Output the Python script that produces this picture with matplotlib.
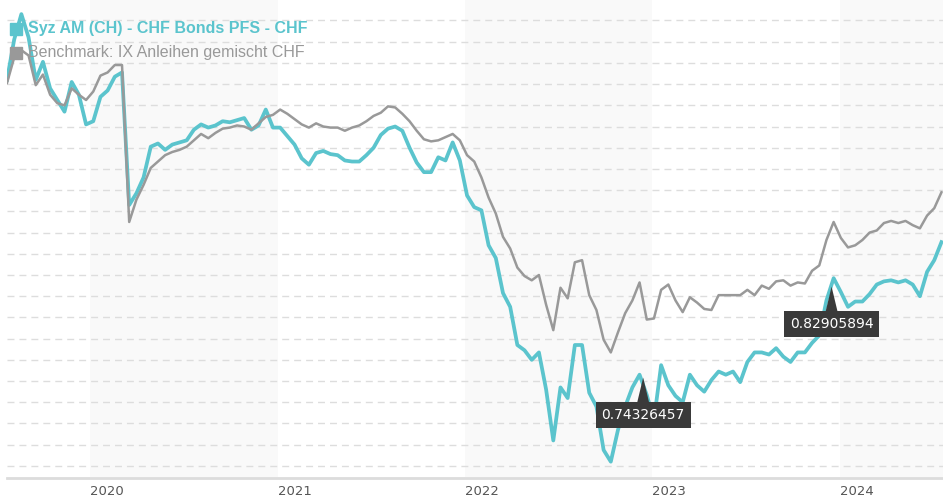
import numpy as np
import pandas as pd
import matplotlib.pyplot as plt
from matplotlib.patches import Rectangle

fund_name = "Syz AM (CH) - CHF Bonds PFS - CHF"
bench_name = "Benchmark: IX Anleihen gemischt CHF"

dates = pd.date_range("2019-07-24", periods=131, freq="14D")

fund = [
    1.024, 1.062, 1.086, 1.064, 1.024, 1.041, 1.016, 1.005, 0.994, 1.022,
    1.010, 0.982, 0.985, 1.008, 1.014, 1.027, 1.031, 0.906, 0.917, 0.932,
    0.961, 0.964, 0.958, 0.963, 0.965, 0.967, 0.977, 0.982, 0.979, 0.981,
    0.985, 0.984, 0.986, 0.988, 0.977, 0.981, 0.996, 0.979, 0.979, 0.971,
    0.963, 0.950, 0.944, 0.955, 0.957, 0.954, 0.953, 0.948, 0.947, 0.947,
    0.953, 0.960, 0.972, 0.978, 0.980, 0.976, 0.960, 0.946, 0.937, 0.937,
    0.951, 0.948, 0.965, 0.948, 0.915, 0.904, 0.901, 0.868, 0.856, 0.823,
    0.810, 0.774, 0.769, 0.760, 0.767, 0.732, 0.684, 0.734, 0.724, 0.774,
    0.774, 0.729, 0.716, 0.675, 0.664, 0.694, 0.716, 0.734, 0.746, 0.727,
    0.703, 0.755, 0.736, 0.726, 0.720, 0.746, 0.736, 0.730, 0.741, 0.749,
    0.746, 0.749, 0.739, 0.758, 0.767, 0.767, 0.765, 0.771, 0.763, 0.758,
    0.767, 0.767, 0.776, 0.783, 0.816, 0.837, 0.824, 0.810, 0.815, 0.815,
    0.822, 0.831, 0.834, 0.835, 0.833, 0.835, 0.831, 0.820, 0.843, 0.854,
    0.871,
]

bench = [
    1.021, 1.045, 1.052, 1.047, 1.019, 1.029, 1.010, 1.002, 1.000, 1.016,
    1.010, 1.005, 1.013, 1.028, 1.031, 1.038, 1.038, 0.890, 0.911, 0.925,
    0.941, 0.947, 0.953, 0.956, 0.958, 0.961, 0.967, 0.973, 0.969, 0.974,
    0.978, 0.979, 0.981, 0.980, 0.977, 0.983, 0.989, 0.991, 0.996, 0.992,
    0.987, 0.982, 0.979, 0.983, 0.980, 0.979, 0.979, 0.976, 0.979, 0.981,
    0.985, 0.990, 0.993, 0.999, 0.998, 0.992, 0.985, 0.976, 0.968, 0.966,
    0.967, 0.970, 0.973, 0.967, 0.953, 0.947, 0.932, 0.913, 0.898, 0.876,
    0.865, 0.847, 0.839, 0.835, 0.840, 0.812, 0.788, 0.828, 0.818, 0.852,
    0.854, 0.821, 0.807, 0.779, 0.767, 0.786, 0.804, 0.816, 0.833, 0.798,
    0.799, 0.826, 0.831, 0.816, 0.805, 0.819, 0.814, 0.808, 0.807, 0.821,
    0.821, 0.821, 0.821, 0.826, 0.821, 0.830, 0.827, 0.834, 0.835, 0.830,
    0.833, 0.832, 0.844, 0.849, 0.873, 0.890, 0.875, 0.866, 0.868, 0.873,
    0.880, 0.882, 0.889, 0.891, 0.889, 0.891, 0.887, 0.884, 0.896, 0.903,
    0.918,
]

annot_dates = ["2022-12-14", "2023-12-16"]
annot_values = [0.74326457, 0.82905894]

years = [2020, 2021, 2022, 2023, 2024]
shaded_years = [2020, 2022, 2024]

teal = "#5bc4cd"
grey = "#999999"
box = "#3a3a3a"

fig = plt.figure(figsize=(9.43, 5), dpi=100)
ax = fig.add_axes([7 / 943, 22 / 500, 936 / 943, 478 / 500])

# alternating year bands
for y in shaded_years:
    ax.axvspan(pd.Timestamp(f"{y}-01-01"), pd.Timestamp(f"{y + 1}-01-01"),
               color="#f9f9f9", lw=0, zorder=0)

ax.plot(dates, fund, color=teal, lw=2.7, zorder=3)
ax.plot(dates, bench, color=grey, lw=1.8, zorder=4)

ax.set_xlim(pd.Timestamp("2019-07-24"), pd.Timestamp("2024-07-20"))
ax.set_ylim(0.6486, 1.0993)

# dashed horizontal grid
ax.set_yticks(np.arange(0.66, 1.09, 0.02))
ax.set_axisbelow(True)
ax.yaxis.grid(True, color="#dddddd", lw=1, linestyle=(0, (5, 3.6)))
ax.tick_params(axis="y", left=False, labelleft=False)

ax.set_xticks([pd.Timestamp(f"{y}-01-01") for y in years])
ax.set_xticklabels([str(y) for y in years])
ax.tick_params(axis="x", length=0, pad=5, labelsize=9.5, labelcolor="#555555")
for lbl in ax.get_xticklabels():
    lbl.set_ha("left")

for s in ["top", "left", "right"]:
    ax.spines[s].set_visible(False)
ax.spines["bottom"].set_color("#dcdcdc")
ax.spines["bottom"].set_linewidth(2)

# value call-outs
for d, v in zip(annot_dates, annot_values):
    ax.annotate(f"{v:.8f}", xy=(pd.Timestamp(d), v), xytext=(0, -27),
                textcoords="offset points", ha="center", va="center",
                color="white", fontsize=10,
                bbox=dict(boxstyle="square,pad=0.42", fc=box, ec="none"),
                arrowprops=dict(arrowstyle="wedge,tail_width=0.85", fc=box,
                                ec="none", shrinkA=0, shrinkB=0),
                zorder=6)

# legend in the top-left corner
fig.add_artist(Rectangle((10 / 943, 1 - 35 / 500), 12 / 943, 12 / 500,
                         transform=fig.transFigure, color=teal, zorder=5))
fig.add_artist(Rectangle((10 / 943, 1 - 59 / 500), 12 / 943, 12 / 500,
                         transform=fig.transFigure, color=grey, zorder=5))
fig.text(28 / 943, 1 - 29 / 500, fund_name, color=teal, fontsize=11.5,
         fontweight="bold", family="Liberation Sans", va="center", zorder=6)
fig.text(28 / 943, 1 - 53 / 500, bench_name, color=grey, fontsize=11.5,
         family="Liberation Sans", va="center", zorder=6)

fig.savefig("out.png", dpi=100)
